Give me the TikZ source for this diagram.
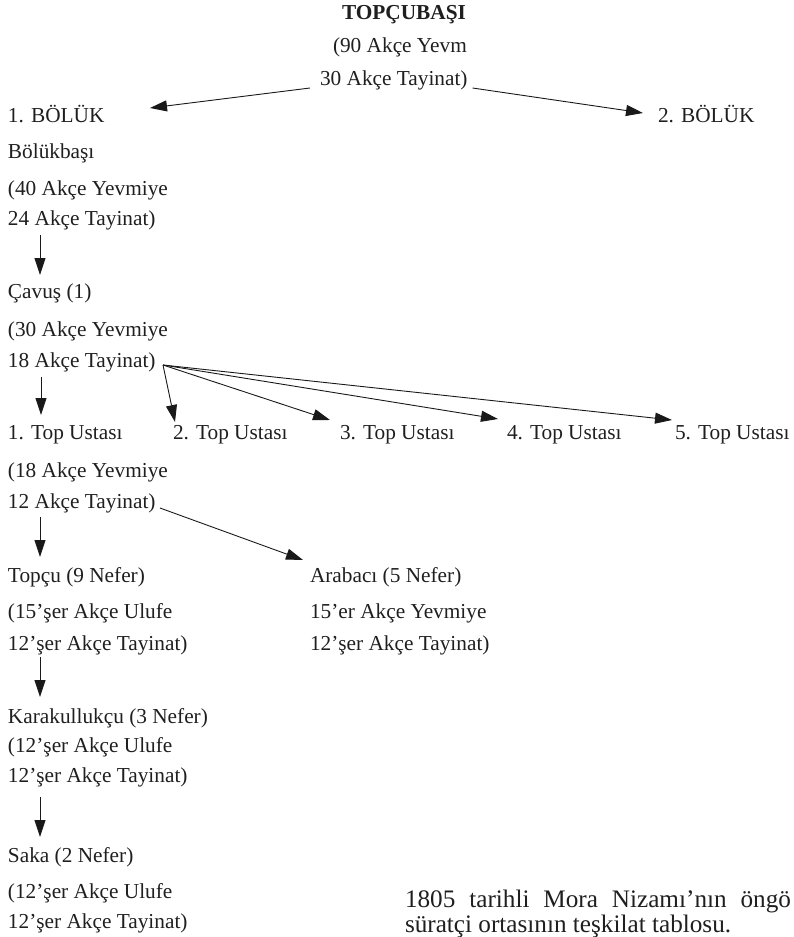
\documentclass[tikz,border=0pt]{standalone}
\usepackage{fontspec}
\setmainfont{Liberation Serif}
\usetikzlibrary{arrows.meta,calc}
\newcommand{\bodyfont}{\fontsize{21.3}{25}\selectfont}
\newcommand{\capfont}{\fontsize{25.2}{29}\selectfont}
\tikzset{
  txt/.style={anchor=base west, inner sep=0pt, outer sep=0pt, font=\bodyfont, text=black!88},
  ttl/.style={anchor=base, inner sep=0pt, outer sep=0pt, font=\bodyfont\bfseries, text=black!88},
  captxt/.style={anchor=base west, inner sep=0pt, outer sep=0pt, font=\capfont, text=black!88},
  arr/.style={draw=black!90, line width=0.9pt, -{Triangle[length=17pt,width=11pt]}}
}
\begin{document}
\begin{tikzpicture}[x=1pt,y=-1pt]
\useasboundingbox (0,0) rectangle (793,937);
% top
\node[ttl] (ttl) at (404,19.5) {TOPÇUBAŞI};
\node[txt] (t1) at (333,52) {(90 Akçe Yevm};
\node[txt] (t2) at (320,85) {30 Akçe Tayinat)};
\node[txt] (b1) at (8,122) {1. BÖLÜK};
\node[txt] (b2) at (658,122) {2. BÖLÜK};
% left column
\node[txt] (bb) at (8,158) {Bölükbaşı};
\node[txt] (bb1) at (8,195) {(40 Akçe Yevmiye};
\node[txt] (bb2) at (8,225) {24 Akçe Tayinat)};
\node[txt] (cv) at (8,298) {Çavuş (1)};
\node[txt] (cv1) at (8,336) {(30 Akçe Yevmiye};
\node[txt] (cv2) at (8,367) {18 Akçe Tayinat)};
\node[txt] (u1) at (8,439) {1. Top Ustası};
\node[txt] (u2) at (173,439) {2. Top Ustası};
\node[txt] (u3) at (340,439) {3. Top Ustası};
\node[txt] (u4) at (507,439) {4. Top Ustası};
\node[txt] (u5) at (675,439) {5. Top Ustası};
\node[txt] (u11) at (8,477) {(18 Akçe Yevmiye};
\node[txt] (u12) at (8,508) {12 Akçe Tayinat)};
\node[txt] (tp) at (8,582) {Topçu (9 Nefer)};
\node[txt] (tp1) at (8,618) {(15’şer Akçe Ulufe};
\node[txt] (tp2) at (8,650) {12’şer Akçe Tayinat)};
\node[txt] (ar) at (310,582) {Arabacı (5 Nefer)};
\node[txt] (ar1) at (310,618) {15’er Akçe Yevmiye};
\node[txt] (ar2) at (310,650) {12’şer Akçe Tayinat)};
\node[txt] (kk) at (8,723) {Karakullukçu (3 Nefer)};
\node[txt] (kk1) at (8,752) {(12’şer Akçe Ulufe};
\node[txt] (kk2) at (8,782) {12’şer Akçe Tayinat)};
\node[txt] (sk) at (8,862) {Saka (2 Nefer)};
\node[txt] (sk1) at (8,898) {(12’şer Akçe Ulufe};
\node[txt] (sk2) at (8,928) {12’şer Akçe Tayinat)};
% caption
\node[captxt] (c1) at (405,907) {\hbox to 386pt{1805\hfill tarihli\hfill Mora\hfill Nizamı’nın\hfill öngö}};
\node[captxt] (c2) at (405,932) {süratçi ortasının teşkilat tablosu.};
% connectors
\draw[arr] ($(t2.base west)+(-10,3)$) -- ($(b1.base west)+(142,-14)$);
\draw[arr] ($(t2.base east)+(5,3)$) -- ($(b2.base west)+(-15,-9)$);
\draw[arr] ($(bb2.base west)+(32,10)$) -- ($(cv.base west)+(32,-23)$);
\draw[arr] ($(cv2.base west)+(33,10)$) -- ($(u1.base west)+(33,-24)$);
\coordinate (fan) at ($(cv2.base west)+(155,-2)$);
\draw[arr] (fan) -- ($(u2.base west)+(2,-17)$);
\draw[arr] (fan) -- ($(u3.base west)+(-10,-19)$);
\draw[arr] (fan) -- ($(u4.base west)+(-9,-20)$);
\draw[arr] (fan) -- ($(u5.base west)+(-3,-19)$);
\draw[arr] ($(u12.base west)+(32,9)$) -- ($(tp.base west)+(32,-25)$);
\draw[arr] ($(u12.base west)+(152,0)$) -- ($(ar.base west)+(-7,-22)$);
\draw[arr] ($(tp2.base west)+(32,7)$) -- ($(kk.base west)+(32,-26)$);
\draw[arr] ($(kk2.base west)+(32,15)$) -- ($(sk.base west)+(32,-25)$);
\end{tikzpicture}
\end{document}
